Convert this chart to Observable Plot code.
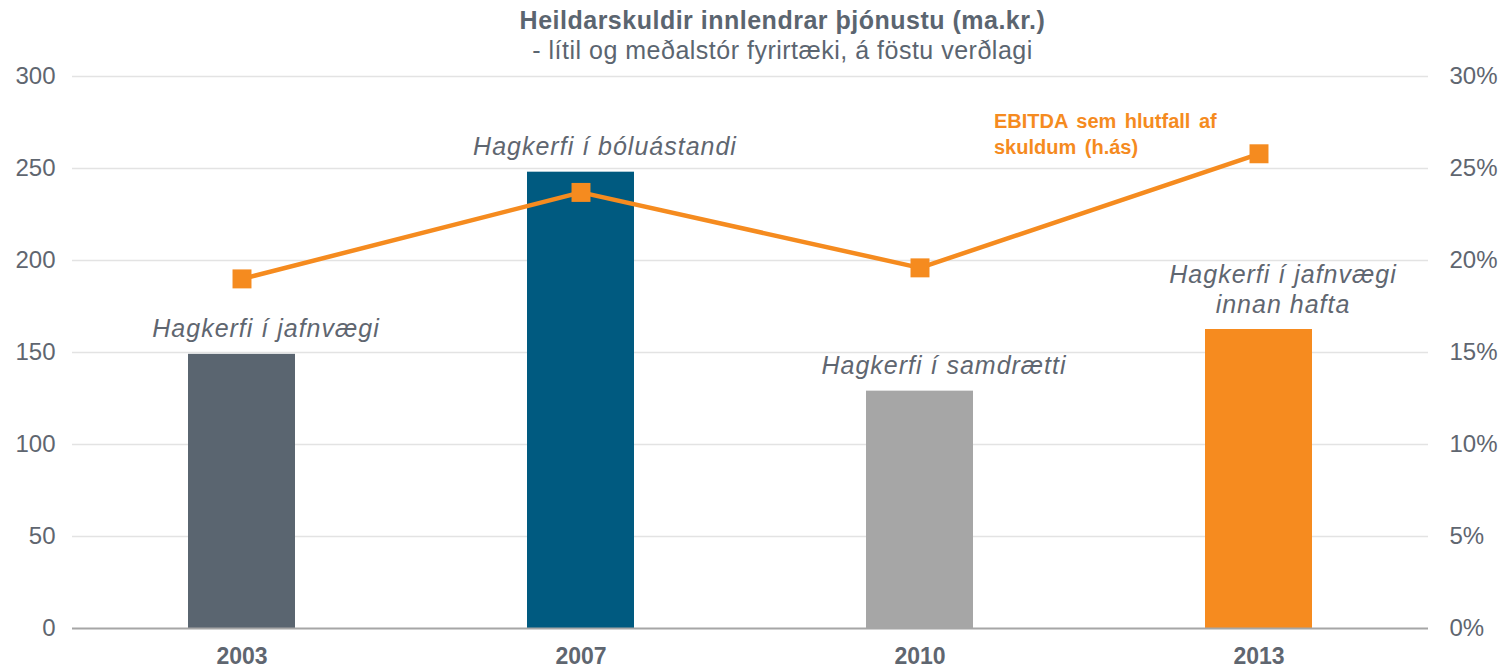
<!DOCTYPE html>
<html>
<head>
<meta charset="utf-8">
<script src="https://cdn.jsdelivr.net/npm/d3@7"></script>
<script src="https://cdn.jsdelivr.net/npm/@observablehq/plot@0.6"></script>
<style>
  html, body { margin: 0; padding: 0; background: #fff; }
  body { width: 1501px; height: 668px; overflow: hidden; font-family: "Liberation Sans", Arial, sans-serif; }
  #head { position: relative; z-index: 1; height: 65px; padding-top: 5px; box-sizing: border-box; padding-left: 64px; text-align: center; color: #5b6570; }
  #head .t { font-size: 25px; font-weight: bold; line-height: 30px; letter-spacing: 0.5px; }
  #head .s { font-size: 25px; line-height: 30px; letter-spacing: 0.5px; }
  #chart { margin-top: -25px; }
  #chart svg { display: block; overflow: visible; }
  #chart g[font-style="italic"] { letter-spacing: 1px; }
  #chart g[font-weight="bold"][fill="#f58b1f"] { word-spacing: 3px; }
</style>
</head>
<body>
<div id="head">
  <div class="t">Heildarskuldir innlendrar þjónustu (ma.kr.)</div>
  <div class="s">- lítil og meðalstór fyrirtæki, á föstu verðlagi</div>
</div>
<div id="chart"></div>
<script>
// ---- data ----
const years = ["2003", "2007", "2010", "2013"];
const debt = [149, 248, 129, 162.5];               // ma.kr. (left axis)
const ebitdaPct = [19.0, 23.7, 19.6, 25.8];        // % (right axis)
const barColors = ["#5a6570", "#005a80", "#a6a6a6", "#f68b1f"];
const phaseLabels = ["Hagkerfi í jafnvægi", "Hagkerfi í bóluástandi", "Hagkerfi í samdrætti", "Hagkerfi í jafnvægi\ninnan hafta"];
const leftTicks = [0, 50, 100, 150, 200, 250, 300];
const rightTicks = [0, 5, 10, 15, 20, 25, 30];
const lineLabel = "EBITDA sem hlutfall af\nskuldum (h.ás)";

// ---- build ----
const rows = years.map((y, i) => ({year: y, debt: debt[i], pct: ebitdaPct[i], color: barColors[i], label: phaseLabels[i]}));
const pctToLeft = p => p * 10; // 30% <-> 300
const textColor = "#5f6670";
const orange = "#f58b1f";

const chart = Plot.plot({
  width: 1501,
  height: 628,
  marginLeft: 72,
  marginRight: 73,
  marginTop: 36,
  marginBottom: 40,
  style: {fontFamily: "'Liberation Sans', Arial, sans-serif", color: textColor, background: "transparent"},
  x: {domain: years, padding: 0, label: null},
  y: {domain: [0, 300], label: null},
  marks: [
    Plot.gridY(leftTicks.filter(d => d > 0), {stroke: "#e3e3e3", strokeOpacity: 1, strokeWidth: 1.3}),
    Plot.barY(rows, {x: "year", y: "debt", fill: "color", insetLeft: 116, insetRight: 116}),
    Plot.ruleY([0], {stroke: "#a6a6a6", strokeWidth: 1.8}),
    Plot.text(rows, {x: "year", y: "debt", text: "label", fontStyle: "italic", fontSize: 25, fill: textColor, lineAnchor: "bottom", dx: 24, dy: -17, lineHeight: 1.2}),
    Plot.line(rows, {x: "year", y: d => pctToLeft(d.pct), stroke: orange, strokeWidth: 4.5}),
    Plot.dot(rows, {x: "year", y: d => pctToLeft(d.pct), symbol: "square", r: 10.7, fill: orange, stroke: null}),
    Plot.text(rows.filter(d => d.year === "2013"), {x: "year", y: d => pctToLeft(d.pct), text: () => lineLabel, textAnchor: "start", dx: -265, dy: -21, fontWeight: "bold", fontSize: 20, fill: orange, lineHeight: 1.3}),
    Plot.axisY({anchor: "left", ticks: leftTicks, tickSize: 0, tickPadding: 17, fontSize: 24, fill: textColor, label: null}),
    Plot.axisY({anchor: "right", ticks: rightTicks.map(pctToLeft), tickFormat: d => (d / 10) + "%", tickSize: 0, tickPadding: 21, fontSize: 24, fill: textColor, label: null}),
    Plot.axisX({tickSize: 0, tickPadding: 19, fontSize: 23, fontWeight: "bold", fill: textColor, label: null})
  ]
});
document.getElementById("chart").appendChild(chart);
</script>
</body>
</html>
